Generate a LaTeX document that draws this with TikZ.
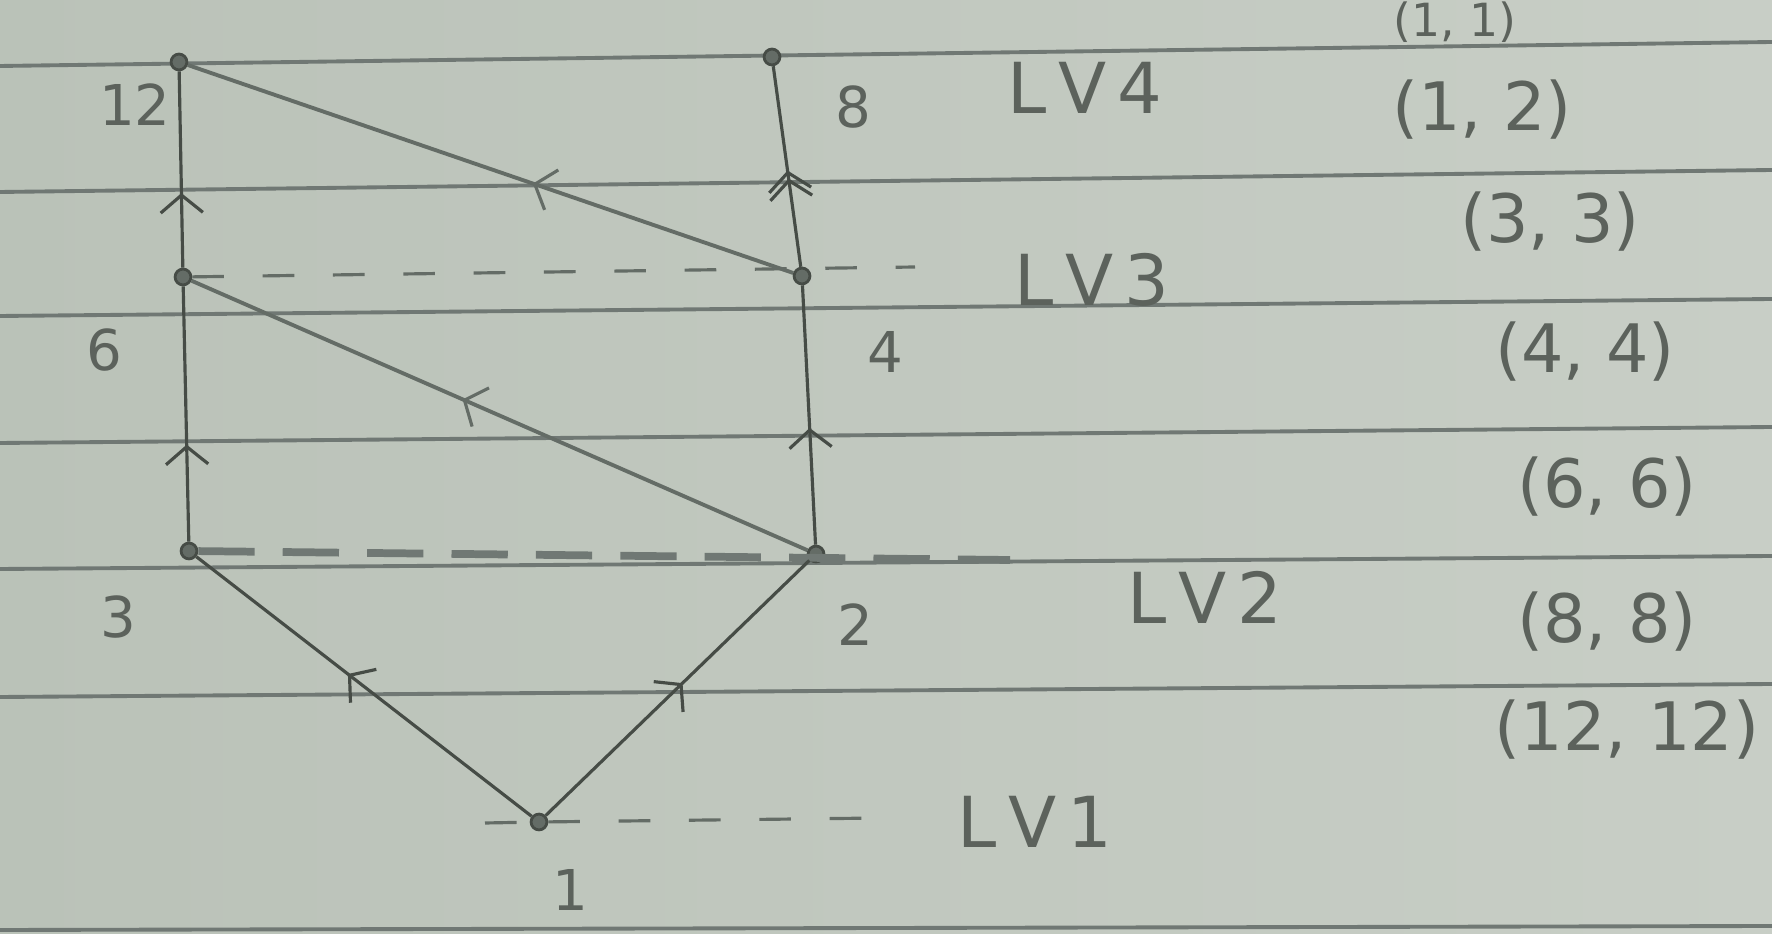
\documentclass[tikz,border=0pt]{standalone}
\usepackage{fontspec}
\setmainfont{DejaVu Sans}
\usetikzlibrary{arrows.meta,decorations.markings}
\definecolor{paper}{RGB}{186,194,184}
\definecolor{paperlight}{RGB}{200,206,198}
\definecolor{rule}{RGB}{112,120,116}
\definecolor{ink}{RGB}{70,76,70}
\definecolor{pencil}{RGB}{100,108,102}
\definecolor{txt}{RGB}{92,98,92}
\begin{document}
\begin{tikzpicture}[x=0.01cm,y=-0.01cm,
  vtx/.style={circle,draw=ink,line width=0.8pt,fill=pencil,inner sep=0pt,minimum size=4.5pt},
  edge/.style={draw=ink,line width=0.9pt},
  diag/.style={draw=pencil,line width=1.1pt},
  midarrow/.style={postaction={decorate,decoration={markings,
      mark=at position #1 with {\arrow{Straight Barb[length=5pt,width=12pt,line width=0.9pt]}}}}},
  lbl/.style={text=txt,font=\fontsize{16}{16}\selectfont,inner sep=0pt},
  lvl/.style={text=txt,font=\fontsize{20}{20}\selectfont,inner sep=0pt},
  crd/.style={text=txt,font=\fontsize{19}{19}\selectfont,inner sep=0pt},
  ruled/.style={draw=rule,line width=1.1pt},
  level/.style={draw=pencil,line width=0.9pt,dash pattern=on 9pt off 11pt}
]
\useasboundingbox (0,0) rectangle (1772,934);
\clip (0,0) rectangle (1772,934);
\shade[left color=paper,right color=paperlight] (0,0) rectangle (1772,934);

% ruled lines of the paper
\draw[ruled] (0,66) -- (1772,42);
\draw[ruled] (0,192) -- (1772,170);
\draw[ruled] (0,316) -- (1772,299);
\draw[ruled] (0,443) -- (1772,427);
\draw[ruled] (0,569) -- (1772,556);
\draw[ruled] (0,697) -- (1772,684);
\draw[ruled] (0,930) -- (1772,926);

% vertices
\node[vtx] (n12) at (179,62) {};
\node[vtx] (n8)  at (772,57) {};
\node[vtx] (n6)  at (183,277) {};
\node[vtx] (n4)  at (802,276) {};
\node[vtx] (n3)  at (189,551) {};
\node[vtx] (n2)  at (816,554) {};
\node[vtx] (n1)  at (539,822) {};

% level guide lines
\coordinate (e3) at (915,267);
\coordinate (e2) at (1010,560);
\coordinate (e1) at (880,818);
\coordinate (s1) at (485,823);
\draw[level] (n6) -- (e3);
\draw[draw=rule,line width=2.2pt,dash pattern=on 16pt off 8pt] (n3) -- (e2);
\draw[level] (n1) -- (e1);
\draw[level] (s1) -- (n1);

% edges
\draw[edge,midarrow=0.55] (n1) -- (n3);
\draw[edge,midarrow=0.52] (n1) -- (n2);
\draw[edge,midarrow=0.38] (n3) -- (n6);
\draw[edge,midarrow=0.38] (n6) -- (n12);
\draw[edge,midarrow=0.45] (n2) -- (n4);
\draw[edge,midarrow=0.44,midarrow=0.48] (n4) -- (n8);
\draw[diag,midarrow=0.56] (n2) -- (n6);
\draw[diag,midarrow=0.43] (n4) -- (n12);

% vertex labels
\node[lbl] (l12) at (135,105) {12};
\node[lbl] (l8)  at (853,107) {8};
\node[lbl] (l6)  at (104,350) {6};
\node[lbl] (l4)  at (885,352) {4};
\node[lbl] (l3)  at (118,617) {3};
\node[lbl] (l2)  at (855,625) {2};
\node[lbl] (l1)  at (570,890) {1};

% level labels
\node[lvl] (lv4) at (1085,88) {L\,V\,4};
\node[lvl] (lv3) at (1092,280) {L\,V\,3};
\node[lvl] (lv2) at (1205,597) {L\,V\,2};
\node[lvl] (lv1) at (1035,822) {L\,V\,1};

% coordinate list
\node[crd,font=\fontsize{13}{13}\selectfont] (c11) at (1455,22) {(1, 1)};
\node[crd] (c12) at (1482,110) {(1, 2)};
\node[crd] (c33) at (1550,222) {(3, 3)};
\node[crd] (c44) at (1585,352) {(4, 4)};
\node[crd] (c66) at (1607,487) {(6, 6)};
\node[crd] (c88) at (1607,622) {(8, 8)};
\node[crd] (c1212) at (1627,730) {(12, 12)};
\end{tikzpicture}
\end{document}
